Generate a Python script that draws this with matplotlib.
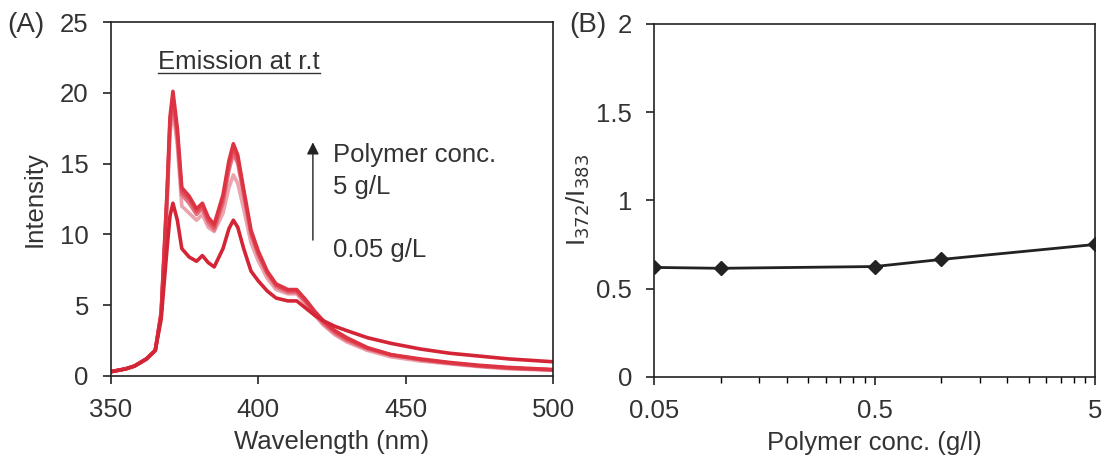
import numpy as np
import matplotlib
matplotlib.use("Agg")
import matplotlib.pyplot as plt
from matplotlib.ticker import FixedLocator, NullFormatter

plt.rcParams['font.family'] = ['Liberation Sans', 'DejaVu Sans']
plt.rcParams['font.size'] = 18.5

# ---- data: emission spectra (A) ----
wavelength = [350, 355, 358, 362, 365, 367, 369, 370, 371, 372.5, 374, 376.5, 379, 381, 383,
              385, 388, 390, 391.5, 393, 395, 397.5, 400, 403, 406, 410, 413, 416, 419,
              422, 426, 430, 437, 445, 455, 465, 475, 485, 500]

int_005 = [0.3, 0.5, 0.7, 1.2, 1.8, 4.0, 9.0, 11.3, 12.2, 11.0, 9.0, 8.4, 8.1, 8.5, 8.0,
           7.7, 9.0, 10.4, 11.0, 10.5, 9.0, 7.4, 6.7, 6.0, 5.5, 5.3, 5.3, 4.8, 4.3,
           3.9, 3.5, 3.2, 2.7, 2.3, 1.9, 1.6, 1.4, 1.2, 1.0]
int_01 = [0.3, 0.5, 0.7, 1.2, 1.8, 4.3, 12.4, 17.5, 19.2, 16.8, 12.8, 12.2, 11.4, 11.8, 10.8,
          10.3, 12.2, 14.5, 15.7, 15.0, 12.8, 10.0, 8.5, 7.2, 6.3, 5.9, 5.9, 5.2, 4.4,
          3.7, 3.0, 2.5, 1.9, 1.45, 1.15, 0.9, 0.7, 0.55, 0.42]
int_05 = [0.3, 0.5, 0.7, 1.2, 1.8, 4.2, 12.0, 17.1, 18.8, 16.3, 12.0, 11.5, 11.0, 11.4, 10.5,
          10.2, 11.5, 13.3, 14.2, 13.6, 11.8, 9.4, 8.1, 6.9, 6.1, 5.8, 5.8, 5.1, 4.3,
          3.6, 2.9, 2.4, 1.8, 1.35, 1.05, 0.85, 0.65, 0.5, 0.4]
int_1 = [0.3, 0.5, 0.7, 1.2, 1.8, 4.4, 12.7, 17.9, 19.6, 17.1, 13.0, 12.5, 11.6, 12.0, 11.0,
         10.5, 12.5, 14.9, 16.0, 15.3, 13.0, 10.1, 8.6, 7.3, 6.4, 6.0, 6.0, 5.3, 4.5,
         3.8, 3.1, 2.6, 1.95, 1.5, 1.15, 0.9, 0.7, 0.55, 0.43]
int_5 = [0.3, 0.5, 0.7, 1.2, 1.8, 4.5, 13.0, 18.3, 20.1, 17.5, 13.3, 12.7, 11.8, 12.2, 11.2,
         10.7, 12.8, 15.2, 16.4, 15.6, 13.2, 10.3, 8.8, 7.4, 6.5, 6.1, 6.1, 5.4, 4.6,
         3.9, 3.2, 2.7, 2.0, 1.5, 1.2, 0.95, 0.75, 0.6, 0.45]

# ---- data: ratio I372/I383 (B) ----
conc = [0.05, 0.1, 0.5, 1.0, 5.0]
ratio = [0.62, 0.615, 0.625, 0.665, 0.75]

fig = plt.figure(figsize=(11.05, 4.59), dpi=100)
ax1 = fig.add_axes([0.1005, 0.181, 0.40, 0.771])
ax2 = fig.add_axes([0.592, 0.179, 0.399, 0.769])

# panel A
spectra = [(int_05, '#eba3ad'), (int_01, '#e67482'), (int_1, '#e2505f'),
           (int_5, '#dd3444'), (int_005, '#d42536')]
for y, c in spectra:
    ax1.plot(wavelength, y, color=c, lw=2.6)
ax1.set_xlim(350, 500)
ax1.set_ylim(0, 25)
ax1.set_xticks([350, 400, 450, 500])
ax1.set_yticks([0, 5, 10, 15, 20, 25])
ax1.set_xlabel('Wavelength (nm)', color='#333333', labelpad=6)
ax1.set_ylabel('Intensity', color='#333333', labelpad=10)

t = ax1.text(366.0, 21.65, 'Emission at r.t', color='#333333', ha='left', va='baseline')
ax1.annotate('', xy=(418.5, 16.7), xytext=(418.5, 9.4),
             arrowprops=dict(arrowstyle='-|>', color='#222222', lw=1.0,
                             mutation_scale=18))
ax1.text(425.3, 15.08, 'Polymer conc.', color='#333333', va='baseline')
ax1.text(425.3, 12.82, '5 g/L', color='#333333', va='baseline')
ax1.text(425.3, 8.38, '0.05 g/L', color='#333333', va='baseline')

# panel B
ax2.plot(conc, ratio, color='#222222', lw=2.0, marker='D', ms=7)
ax2.set_xscale('log')
ax2.set_xlim(0.05, 5)
ax2.set_ylim(0, 2)
ax2.xaxis.set_major_locator(FixedLocator([0.05, 0.5, 5]))
ax2.set_xticklabels(['0.05', '0.5', '5'])
minors = [0.05 * k for k in range(2, 10)] + [0.5 * k for k in range(2, 10)]
ax2.xaxis.set_minor_locator(FixedLocator(minors))
ax2.xaxis.set_minor_formatter(NullFormatter())
ax2.set_yticks([0, 0.5, 1, 1.5, 2])
ax2.set_yticklabels(['0', '0.5', '1', '1.5', '2'])
ax2.set_xlabel('Polymer conc. (g/l)', color='#333333', labelpad=6)
ax2.set_ylabel('I$_{372}$/I$_{383}$', color='#333333', labelpad=3)

for ax in (ax1, ax2):
    for s in ax.spines.values():
        s.set_linewidth(1.2)
        s.set_color('#222222')
    ax.tick_params(direction='out', length=6, width=1.2, colors='#222222',
                   labelcolor='#333333', pad=10)
    ax.tick_params(which='minor', direction='out', length=4, width=1.0)

fig.text(0.007, 0.945, '(A)', color='#333333', fontsize=20, va='center')
fig.text(0.515, 0.945, '(B)', color='#333333', fontsize=20, va='center')

# underline under the annotation title
fig.canvas.draw()
bb = t.get_window_extent().transformed(ax1.transData.inverted())
ax1.plot([bb.x0, bb.x1], [21.37, 21.37], color='#333333', lw=1.0, clip_on=False)

fig.savefig('out.png', dpi=100)
